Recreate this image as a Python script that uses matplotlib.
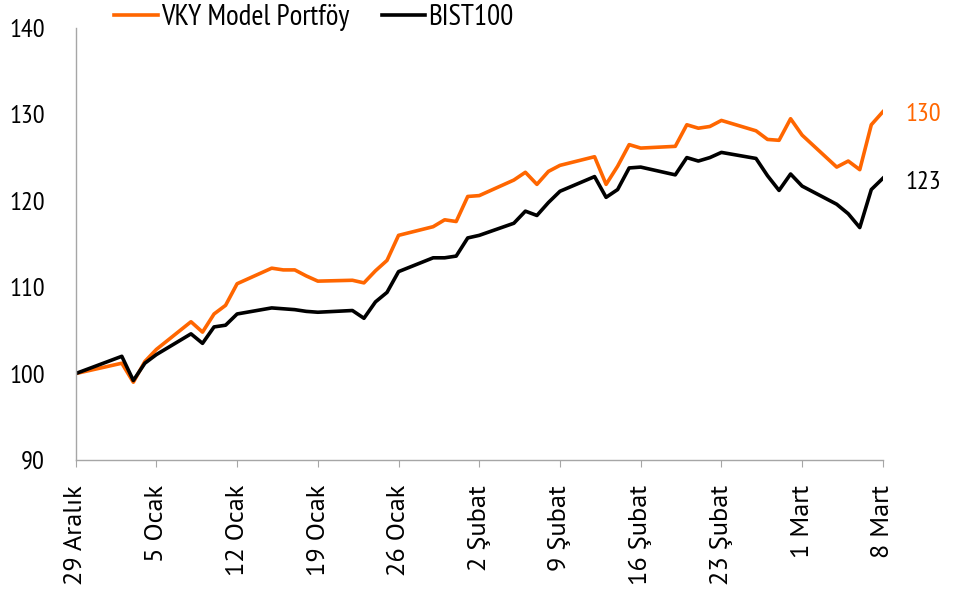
import numpy as np
import pandas as pd
import matplotlib
matplotlib.use("Agg")
import matplotlib.pyplot as plt

# trading days, 29 Dec 2023 - 8 Mar 2024
dates = ["2023-12-29",
         "2024-01-02", "2024-01-03", "2024-01-04", "2024-01-05",
         "2024-01-08", "2024-01-09", "2024-01-10", "2024-01-11", "2024-01-12",
         "2024-01-15", "2024-01-16", "2024-01-17", "2024-01-18", "2024-01-19",
         "2024-01-22", "2024-01-23", "2024-01-24", "2024-01-25", "2024-01-26",
         "2024-01-29", "2024-01-30", "2024-01-31", "2024-02-01", "2024-02-02",
         "2024-02-05", "2024-02-06", "2024-02-07", "2024-02-08", "2024-02-09",
         "2024-02-12", "2024-02-13", "2024-02-14", "2024-02-15", "2024-02-16",
         "2024-02-19", "2024-02-20", "2024-02-21", "2024-02-22", "2024-02-23",
         "2024-02-26", "2024-02-27", "2024-02-28", "2024-02-29", "2024-03-01",
         "2024-03-04", "2024-03-05", "2024-03-06", "2024-03-07", "2024-03-08"]

vky = [100.0,
       101.2, 99.0, 101.4, 102.8,
       106.0, 104.8, 106.9, 107.9, 110.4,
       112.2, 112.0, 112.0, 111.3, 110.7,
       110.8, 110.5, 111.9, 113.1, 116.0,
       117.0, 117.8, 117.6, 120.5, 120.6,
       122.4, 123.3, 121.9, 123.4, 124.1,
       125.1, 121.9, 124.0, 126.5, 126.1,
       126.3, 128.8, 128.4, 128.6, 129.3,
       128.1, 127.1, 127.0, 129.5, 127.6,
       123.9, 124.6, 123.6, 128.8, 130.3]

bist = [100.0,
        102.0, 99.2, 101.2, 102.2,
        104.6, 103.5, 105.4, 105.6, 106.9,
        107.6, 107.5, 107.4, 107.2, 107.1,
        107.3, 106.4, 108.3, 109.4, 111.8,
        113.4, 113.4, 113.6, 115.7, 116.0,
        117.4, 118.8, 118.3, 119.8, 121.1,
        122.8, 120.4, 121.3, 123.8, 123.9,
        123.0, 125.0, 124.6, 125.0, 125.6,
        124.9, 122.9, 121.2, 123.1, 121.7,
        119.6, 118.5, 116.9, 121.3, 122.6]

tick_dates = ["2023-12-29", "2024-01-05", "2024-01-12", "2024-01-19", "2024-01-26",
              "2024-02-02", "2024-02-09", "2024-02-16", "2024-02-23", "2024-03-01",
              "2024-03-08"]
tick_labels = ["29 Aralık", "5 Ocak", "12 Ocak", "19 Ocak", "26 Ocak", "2 Şubat",
               "9 Şubat", "16 Şubat", "23 Şubat", "1 Mart", "8 Mart"]

plt.rcParams["font.family"] = ["PT Sans Narrow", "DejaVu Sans"]

orange = "#ff6600"
grey = "#a6a6a6"
fs = 19

x = pd.to_datetime(dates)
fig = plt.figure(figsize=(9.74, 5.98), dpi=100)
ax = fig.add_axes([0.0777, 0.2308, 0.8287, 0.7224])

ax.plot(x, vky, color=orange, lw=2.6, label="VKY Model Portföy")
ax.plot(x, bist, color="black", lw=2.6, label="BIST100")

ax.set_ylim(90, 140)
ax.set_yticks([90, 100, 110, 120, 130, 140])
ax.set_xlim(pd.Timestamp(tick_dates[0]), pd.Timestamp(tick_dates[-1]))
ax.set_xticks(pd.to_datetime(tick_dates))
ax.set_xticklabels(tick_labels, rotation=90, family=["PT Sans", "DejaVu Sans"],
                   fontsize=19)

for s in ["top", "right"]:
    ax.spines[s].set_visible(False)
for s in ["left", "bottom"]:
    ax.spines[s].set_color(grey)
    ax.spines[s].set_linewidth(1.0)
ax.tick_params(axis="y", length=0, pad=22, labelsize=fs)
ax.tick_params(axis="x", length=5, color=grey, direction="out", pad=13)

ax.annotate(f"{vky[-1]:.0f}", xy=(x[-1], vky[-1]), xytext=(16, -2),
            textcoords="offset points", color=orange, fontsize=fs, va="center", ha="left")
ax.annotate(f"{bist[-1]:.0f}", xy=(x[-1], bist[-1]), xytext=(16, -3),
            textcoords="offset points", color="black", fontsize=fs, va="center", ha="left")

fig.legend(loc="center", bbox_to_anchor=(314 / 974, 0.970), ncol=2, frameon=False,
           fontsize=fs + 2, handlelength=1.5, handletextpad=0.1, columnspacing=1.1,
           borderaxespad=0, borderpad=0)

fig.savefig("out.png", dpi=100)
